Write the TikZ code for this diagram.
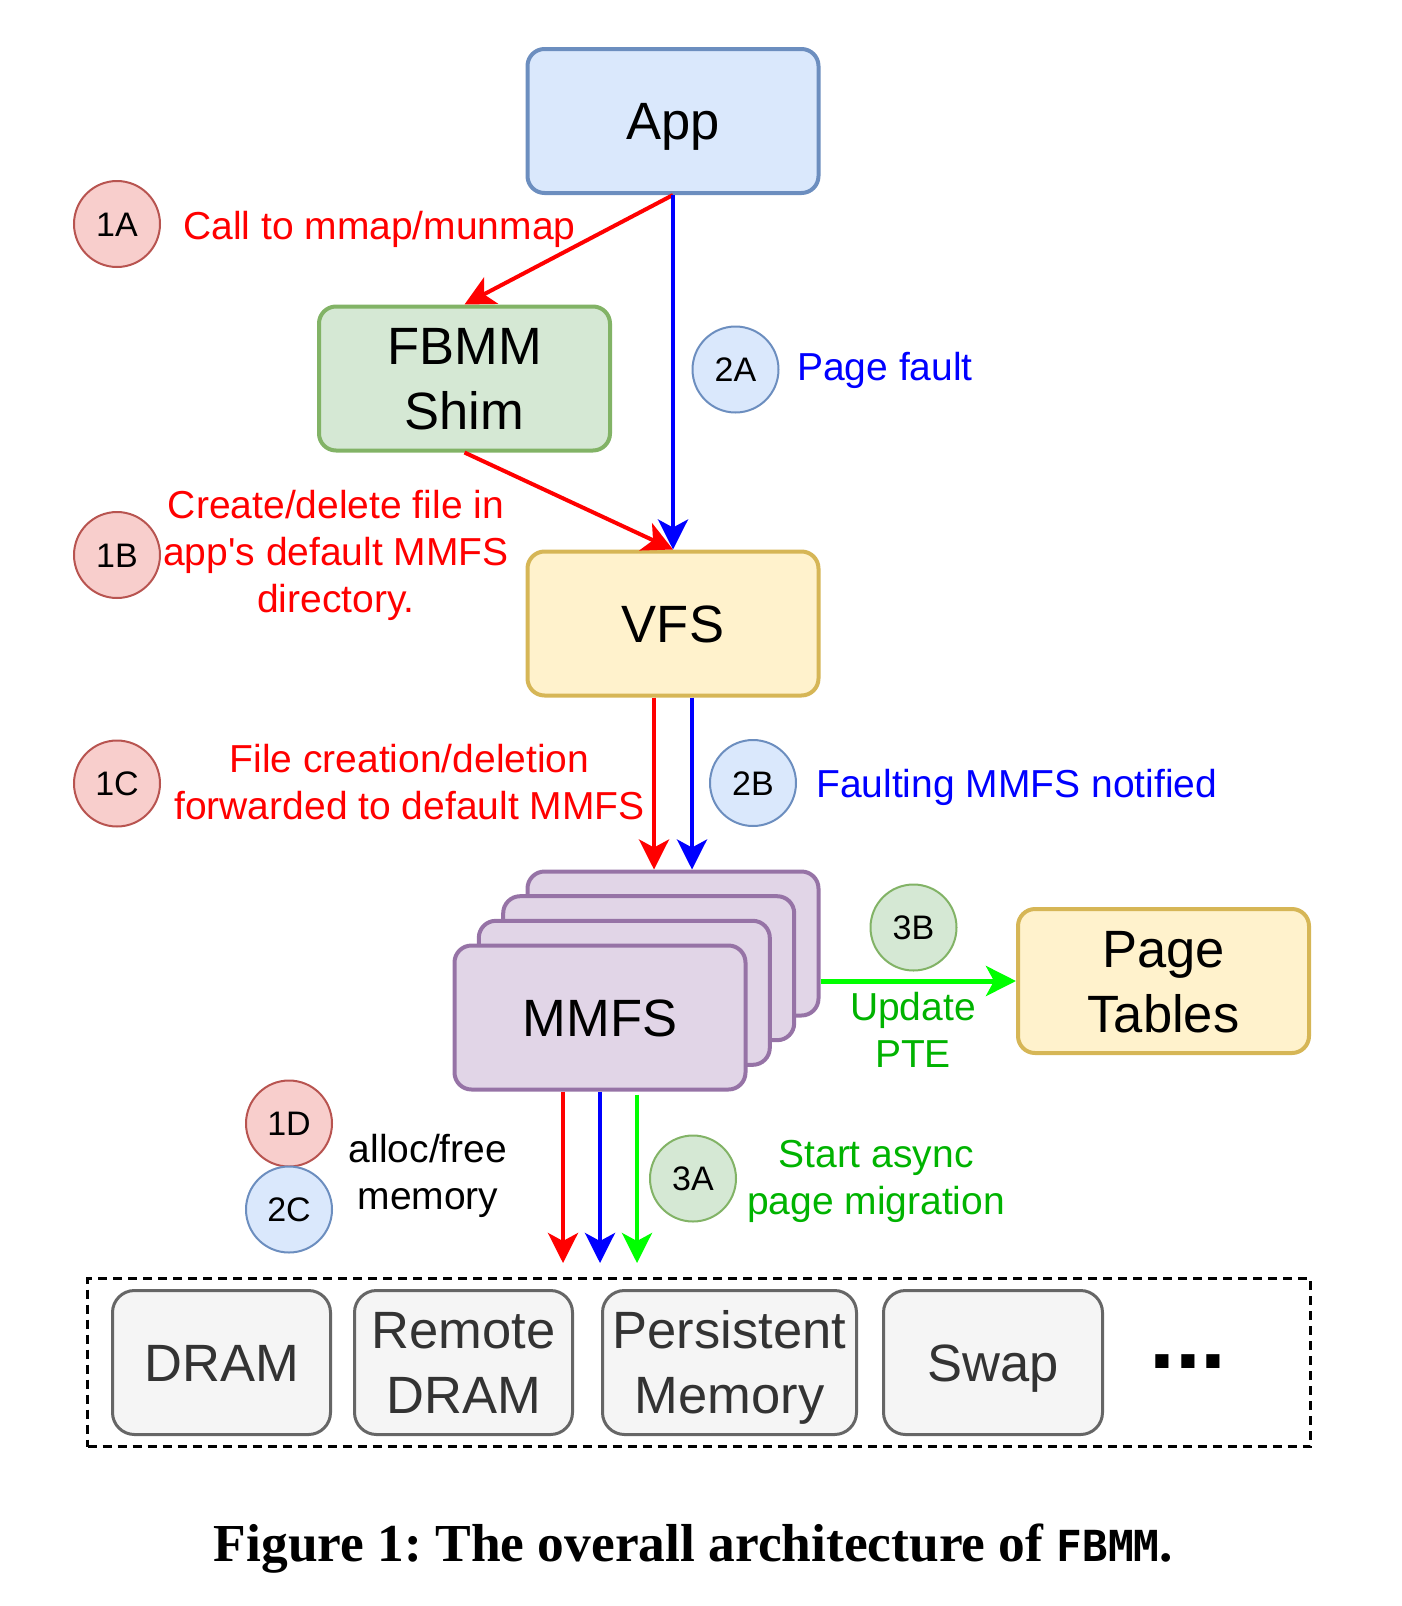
\documentclass[tikz,border=0pt]{standalone}
\usepackage{fontspec}
\usepackage{graphicx}
\setmainfont{Liberation Sans}
\newfontfamily\capserif{Liberation Serif}
\newfontfamily\capmono{DejaVu Sans Mono}
\usetikzlibrary{arrows.meta}
\definecolor{bfill}{HTML}{DAE8FC}\definecolor{bdraw}{HTML}{6C8EBF}
\definecolor{gfill}{HTML}{D5E8D4}\definecolor{gdraw}{HTML}{82B366}
\definecolor{yfill}{HTML}{FFF2CC}\definecolor{ydraw}{HTML}{D6B656}
\definecolor{pfill}{HTML}{E1D5E7}\definecolor{pdraw}{HTML}{9673A6}
\definecolor{rfill}{HTML}{F8CECC}\definecolor{rdraw}{HTML}{B85450}
\definecolor{mfill}{HTML}{F5F5F5}\definecolor{mdraw}{HTML}{666666}\definecolor{mtext}{HTML}{333333}
\definecolor{lred}{HTML}{FF0000}\definecolor{lblue}{HTML}{0000FF}\definecolor{lgreen}{HTML}{00FF00}
\definecolor{tgreen}{HTML}{00B300}
\newcommand\cl[1]{\raisebox{0pt}[0.716em][0pt]{#1}}
\tikzset{
  box/.style={draw, rounded corners=17pt, line width=4pt, minimum width=291pt, minimum height=144pt,
    inner sep=0pt, align=center, font=\fontsize{52.5}{65}\selectfont},
  bluebox/.style={box, fill=bfill, draw=bdraw},
  greenbox/.style={box, fill=gfill, draw=gdraw},
  yellowbox/.style={box, fill=yfill, draw=ydraw},
  purplebox/.style={box, fill=pfill, draw=pdraw},
  membox/.style={draw=mdraw, fill=mfill, text=mtext, rounded corners=22pt, line width=3pt,
    minimum height=144pt, inner sep=0pt, align=center, font=\fontsize{52.5}{65}\selectfont},
  circ/.style={circle, minimum size=86pt, inner sep=0pt, line width=2pt, font=\fontsize{34}{40}\selectfont},
  rcirc/.style={circ, fill=rfill, draw=rdraw},
  bcirc/.style={circ, fill=bfill, draw=bdraw},
  gcirc/.style={circ, fill=gfill, draw=gdraw},
  lbl/.style={inner sep=0pt, align=center, font=\fontsize{39}{47}\selectfont},
  arr/.style={line width=4pt, -{Stealth[length=30pt,width=30pt,inset=8pt]}},
}
\begin{document}
\begin{tikzpicture}[x=1pt,y=-1pt]
\useasboundingbox (0,0) rectangle (1401,1606);
% main boxes
\node[bluebox] (app) at (673,121) {\cl{App}};
\node[greenbox] (fbmm) at (464.5,378.5) {\cl{FBMM}\\\cl{Shim}};
\node[yellowbox] (vfs) at (673,623.5) {\cl{VFS}};
\node[purplebox] (mmfs4) at (673,943.5) {};
\node[purplebox] (mmfs3) at (648.7,968.2) {};
\node[purplebox] (mmfs2) at (624.3,992.8) {};
\node[purplebox] (mmfs) at (600,1017.5) {\cl{MMFS}};
\node[yellowbox] (pt) at (1163.5,981) {\cl{Page}\\\cl{Tables}};
% memory tier
\node[draw, dash pattern=on 9pt off 6pt, line width=3pt, minimum width=1223pt, minimum height=168pt, inner sep=0pt] (tier) at (699,1362.5) {};
\node[membox, minimum width=218pt] (dram) at (221.5,1362.5) {\cl{DRAM}};
\node[membox, minimum width=218pt] (rdram) at (463.5,1362.5) {\cl{Remote}\\\cl{DRAM}};
\node[membox, minimum width=254pt] (pmem) at (729.5,1362.5) {\cl{Persistent}\\\cl{Memory}};
\node[membox, minimum width=219pt] (swap) at (993,1362.5) {\cl{Swap}};
\node[anchor=base, inner sep=0pt, font=\fontsize{93}{100}\selectfont\bfseries] (dots) at (1188,1368) {...};
% circles
\node[rcirc] (c1a) at (117,224) {\cl{1A}};
\node[rcirc] (c1b) at (117,555) {\cl{1B}};
\node[rcirc] (c1c) at (117,783.5) {\cl{1C}};
\node[bcirc] (c2a) at (735.5,369.5) {\cl{2A}};
\node[bcirc] (c2b) at (753,783) {\cl{2B}};
\node[gcirc] (c3b) at (913.5,927.5) {\cl{3B}};
\node[gcirc] (c3a) at (693,1178.5) {\cl{3A}};
\node[rcirc] (c1d) at (289,1123.5) {\cl{1D}};
\node[bcirc] (c2c) at (289,1209.5) {\cl{2C}};
% labels
\node[lbl, text=lred, anchor=north west] (l1a) at (183,211) {\cl{Call to mmap/munmap}};
\node[lbl, text=lblue, anchor=north west] (l2a) at (797,352) {\cl{Page fault}};
\node[lbl, text=lred, anchor=north] (l1b) at (336,490) {\cl{Create/delete file in}\\\cl{app\textquotesingle s default MMFS}\\\cl{directory.}};
\node[lbl, text=lred, anchor=north] (l1c) at (409.5,744) {\cl{File creation/deletion}\\\cl{forwarded to default MMFS}};
\node[lbl, text=lblue, anchor=north west] (l2b) at (816,769) {\cl{Faulting MMFS notified}};
\node[lbl, text=tgreen, anchor=north] (l3b) at (913,992) {\cl{Update}\\\cl{PTE}};
\node[lbl, text=black, anchor=north] (lmem) at (428,1134) {\cl{alloc/free}\\\cl{memory}};
\node[lbl, text=tgreen, anchor=north] (l3a) at (876,1139) {\cl{Start async}\\\cl{page migration}};
% arrows
\draw[arr, lred] (app.south) -- (fbmm.north);
\draw[arr, lblue] (app.south) -- (vfs.north);
\draw[arr, lred] (fbmm.south) -- (vfs.north);
\draw[arr, lred] ([xshift=-19pt]vfs.south) -- ([xshift=-19pt]mmfs4.north);
\draw[arr, lblue] ([xshift=19pt]vfs.south) -- ([xshift=19pt]mmfs4.north);
\draw[arr, lgreen, line width=5pt] (mmfs4.east |- pt.west) -- (pt.west);
\coordinate (tr) at (563,1263);
\coordinate (tb) at (600,1263);
\coordinate (tg) at (637,1263);
\draw[arr, lred] ([xshift=-37pt]mmfs.south) -- (tr);
\draw[arr, lblue] (mmfs.south) -- (tb);
\draw[arr, lgreen] ([xshift=37pt,yshift=-3pt]mmfs.south) -- (tg);
% caption
\node[anchor=base, inner sep=0pt] (cap) at (693.5,1561) {\resizebox{959pt}{!}{\frenchspacing\fontsize{50}{60}\selectfont\capserif\bfseries Figure 1: The overall architecture of {\capmono\bfseries\fontsize{40}{60}\selectfont FBMM}.}};
\end{tikzpicture}
\end{document}
